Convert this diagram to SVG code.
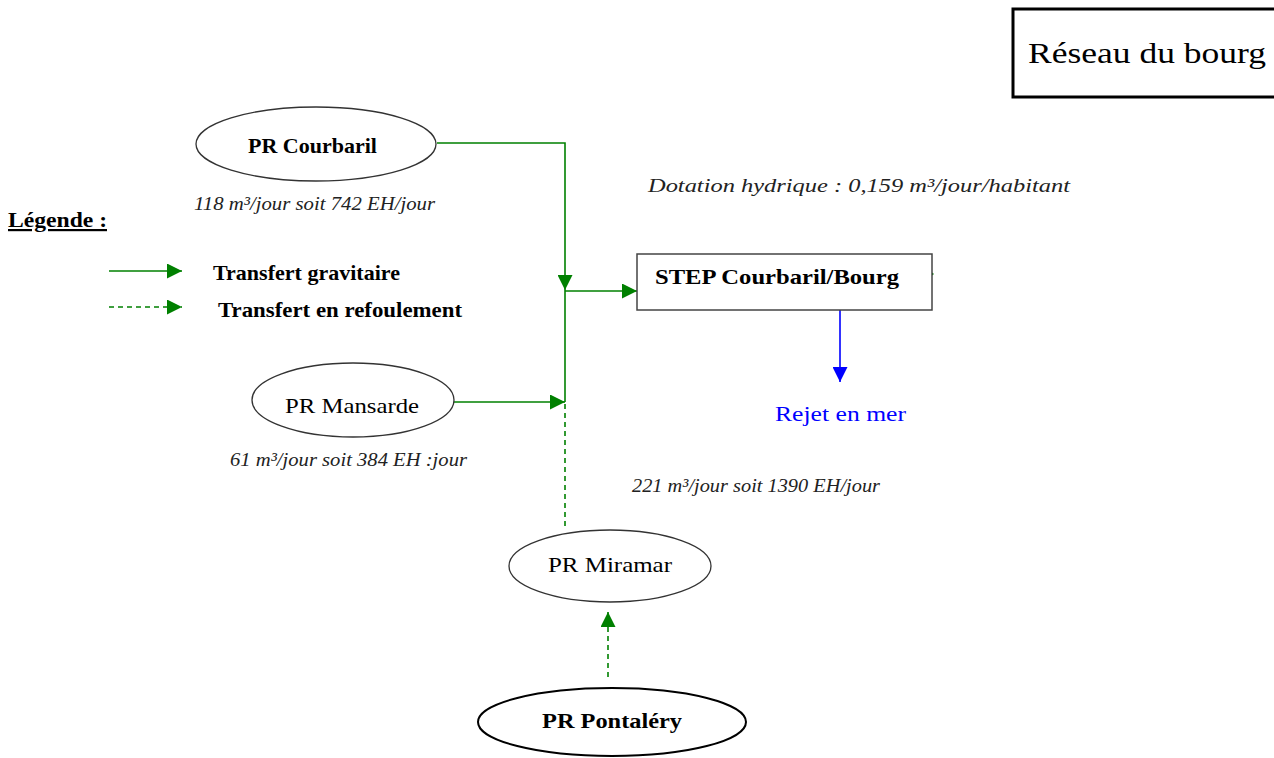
<svg xmlns="http://www.w3.org/2000/svg" width="1274" height="758" viewBox="0 0 1274 758">
  <style>
    text { font-family: "Liberation Serif", "Times New Roman", serif; fill: #000; }
    .lbl { font-size: 22px; }
    .b { font-weight: bold; }
    .it { font-style: italic; font-size: 19px; fill: #222; }
    .node { fill: #fff; stroke: #333; stroke-width: 1.3; }
    .grav { fill: none; stroke: #008000; stroke-width: 1.6; }
    .pump { fill: none; stroke: #008000; stroke-width: 1.6; stroke-dasharray: 5 4; }
    .rej { fill: none; stroke: #0000ff; stroke-width: 1.6; }
  </style>
  <defs>
    <marker id="ahG" viewBox="0 0 10 10" refX="10" refY="5" markerWidth="15" markerHeight="15" markerUnits="userSpaceOnUse" orient="auto">
      <path d="M0,0 L10,5 L0,10 Z" fill="#008000"/>
    </marker>
    <marker id="ahB" viewBox="0 0 10 10" refX="10" refY="5" markerWidth="15" markerHeight="15" markerUnits="userSpaceOnUse" orient="auto">
      <path d="M0,0 L10,5 L0,10 Z" fill="#0000ff"/>
    </marker>
  </defs>

  <rect width="1274" height="758" fill="#fff"/>

  <!-- title box -->
  <g id="titre">
    <rect x="1013" y="9" width="270" height="88" fill="#fff" stroke="#000" stroke-width="3"/>
    <text x="1028" y="63" style="font-size:30px" textLength="238" lengthAdjust="spacingAndGlyphs">Réseau du bourg</text>
  </g>

  <!-- legend -->
  <g id="legende">
    <text x="8" y="227" class="lbl b" textLength="99" lengthAdjust="spacingAndGlyphs" text-decoration="underline">Légende :</text>
    <line x1="109" y1="271" x2="182" y2="271" class="grav" marker-end="url(#ahG)"/>
    <line x1="109" y1="307" x2="182" y2="307" class="pump" marker-end="url(#ahG)"/>
    <text x="213" y="280" class="lbl b" textLength="187" lengthAdjust="spacingAndGlyphs">Transfert gravitaire</text>
    <text x="218" y="317" class="lbl b" textLength="244" lengthAdjust="spacingAndGlyphs">Transfert en refoulement</text>
  </g>

  <!-- connectors -->
  <g id="connecteurs">
    <polyline points="437,143 565,143 565,290" class="grav" marker-end="url(#ahG)"/>
    <line x1="565" y1="290" x2="565" y2="402" class="grav"/>
    <line x1="565" y1="291" x2="637" y2="291" class="grav" marker-end="url(#ahG)"/>
    <line x1="454" y1="402" x2="565" y2="402" class="grav" marker-end="url(#ahG)"/>
    <line x1="565" y1="404" x2="565" y2="530" class="pump"/>
    <line x1="608" y1="677" x2="608" y2="612" class="pump" marker-end="url(#ahG)"/>
    <line x1="840" y1="310" x2="840" y2="382" class="rej" marker-end="url(#ahB)"/>
    <path d="M930,271 L934,274 L930,277 Z" fill="#008000"/>
  </g>

  <!-- nodes -->
  <g id="pr-courbaril">
    <ellipse cx="316" cy="144" rx="120" ry="37" class="node"/>
    <text x="248" y="153" class="lbl b" textLength="129" lengthAdjust="spacingAndGlyphs">PR Courbaril</text>
    <text x="194" y="210" class="it" textLength="241" lengthAdjust="spacingAndGlyphs">118 m³/jour soit 742 EH/jour</text>
  </g>

  <g id="pr-mansarde">
    <ellipse cx="353" cy="400" rx="101" ry="37" class="node"/>
    <text x="285" y="413" class="lbl" textLength="134" lengthAdjust="spacingAndGlyphs">PR Mansarde</text>
    <text x="230" y="466" class="it" textLength="237" lengthAdjust="spacingAndGlyphs">61 m³/jour soit 384 EH :jour</text>
  </g>

  <g id="pr-miramar">
    <ellipse cx="610" cy="566" rx="101" ry="36" class="node"/>
    <text x="548" y="572" class="lbl" textLength="124" lengthAdjust="spacingAndGlyphs">PR Miramar</text>
    <text x="632" y="492" class="it" textLength="248" lengthAdjust="spacingAndGlyphs">221 m³/jour soit 1390 EH/jour</text>
  </g>

  <g id="pr-pontalery">
    <ellipse cx="612" cy="722" rx="134" ry="34" fill="#fff" stroke="#000" stroke-width="2"/>
    <text x="542" y="728" class="lbl b" textLength="140" lengthAdjust="spacingAndGlyphs">PR Pontaléry</text>
  </g>

  <g id="step">
    <rect x="637" y="254" width="295" height="56" fill="#fff" stroke="#444" stroke-width="1.5"/>
    <text x="655" y="284" class="lbl b" textLength="244" lengthAdjust="spacingAndGlyphs">STEP Courbaril/Bourg</text>
  </g>

  <g id="rejet">
    <text x="775" y="421" style="font-size:22px; fill:#0000ff" textLength="131" lengthAdjust="spacingAndGlyphs">Rejet en mer</text>
  </g>

  <g id="dotation">
    <text x="648" y="192" class="it" textLength="422" lengthAdjust="spacingAndGlyphs">Dotation hydrique : 0,159 m³/jour/habitant</text>
  </g>
</svg>
